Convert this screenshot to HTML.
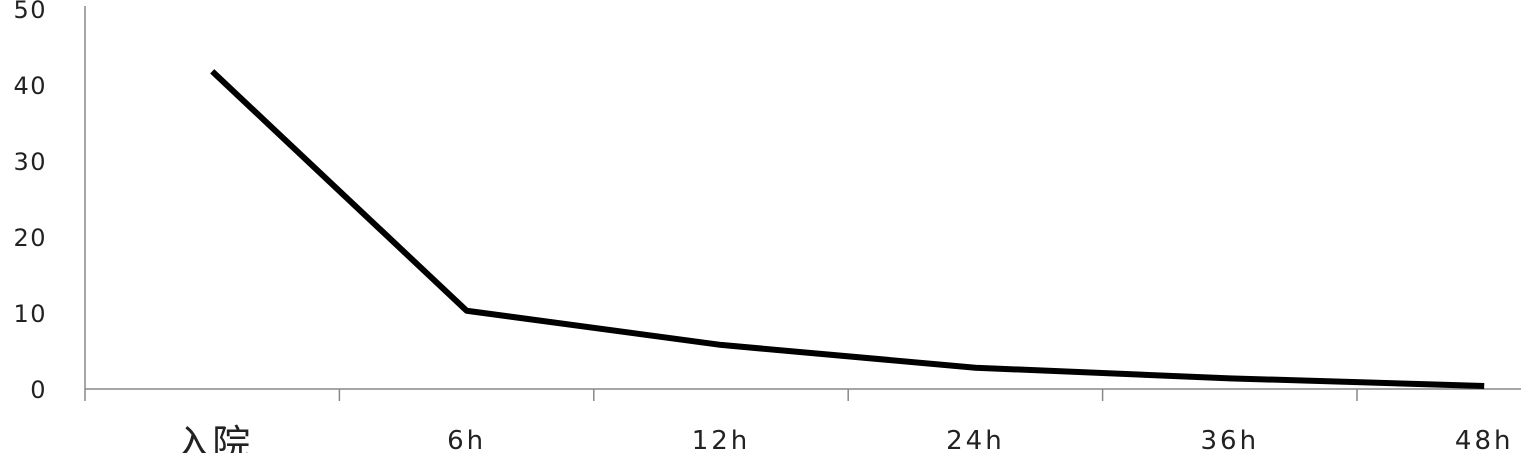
<!DOCTYPE html>
<html><head><meta charset="utf-8"><style>
body{margin:0;background:#fff;}
svg{display:block;}
text{font-family:"DejaVu Sans","Liberation Sans","Noto Sans CJK SC",sans-serif;fill:#222;}
</style></head><body>
<svg id="chart" width="1521" height="453" viewBox="0 0 1521 453" xmlns="http://www.w3.org/2000/svg"></svg>
<script>
const categories=["入院","6h","12h","24h","36h","48h"];
const values=[41.8,10.3,5.8,2.8,1.4,0.4];
const yTicks=[0,10,20,30,40,50];
const NS="http://www.w3.org/2000/svg";
const svg=document.getElementById("chart");
const x0=85,bandW=254.4,yBase=389,pxPer=7.6;
const xBand=i=>x0+bandW*i;
const xc=i=>x0+bandW*(i+0.5);
const y=v=>yBase-v*pxPer;
function mk(tag,attrs){const e=document.createElementNS(NS,tag);for(const k in attrs)e.setAttribute(k,attrs[k]);svg.appendChild(e);return e;}
let e=mk("line",{x1:x0,y1:y(50)-3,x2:x0,y2:401,stroke:"#888","stroke-width":1.5});


e=mk("line",{x1:x0,y1:yBase,x2:1521,y2:yBase,stroke:"#888","stroke-width":1.5});


yTicks.forEach(t=>{
 const l=mk("text",{x:47,y:y(t)+9,"text-anchor":"end","font-size":24,"letter-spacing":1.5});
 l.textContent=t;
 
 
});
categories.forEach((c,i)=>{
 if(i>0){const tk=mk("line",{x1:xBand(i),y1:yBase,x2:xBand(i),y2:401,stroke:"#888","stroke-width":1.5});
 
 }
 const cjk=/[^\x00-\x7f]/.test(c);
 const l=mk("text",{x:xc(i),y:cjk?457:449,"text-anchor":"middle","font-size":cjk?38:26,"letter-spacing":cjk?0:3});
 l.textContent=c;
 
 
});
const pts=values.map((v,i)=>xc(i)+","+y(v)).join(" ");
const pl=mk("polyline",{points:pts,fill:"none",stroke:"#000","stroke-width":6,"stroke-linejoin":"round"});


</script>
</body></html>
